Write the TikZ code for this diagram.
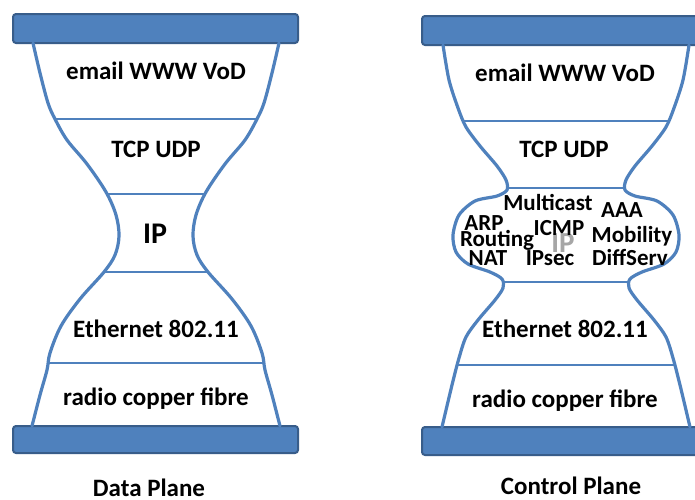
\documentclass[tikz,border=0pt]{standalone}
\usepackage{fontspec}
\setmainfont{Carlito}
\definecolor{glassblue}{HTML}{4F81BD}
\definecolor{glassdark}{HTML}{385D8A}
\definecolor{ipgray}{HTML}{A6A6A6}
\tikzset{
  bar/.style={fill=glassblue,draw=glassdark,line width=2pt,rounded corners=3pt},
  glass/.style={draw=glassblue,line width=3.2pt,line join=round,line cap=round},
  layer/.style={draw=glassblue,line width=2pt},
  biglabel/.style={font=\fontsize{25}{30}\selectfont\bfseries,anchor=base},
  smalllabel/.style={font=\fontsize{23}{27}\selectfont\bfseries,anchor=base,inner sep=0pt},
}

\begin{document}
\begin{tikzpicture}[x=1pt,y=-1pt]
  \useasboundingbox[fill=white] (0,0) rectangle (695,499);
  \begin{scope}
    \clip (0,0) rectangle (695,499);
    \draw[bar] (13,14) rectangle (298,43);
    \draw[bar] (13,426) rectangle (298,453);
    \draw[bar] (422,16) rectangle (710,45);
    \draw[bar] (422,427) rectangle (710,455);
  \end{scope}
  \begin{scope}
     \draw[glass] plot[smooth,tension=0.55] coordinates {(33,43) (40,73) (48,103) (55,119)
        (67,140) (87,164) (106,192) (116,215) (119,236) (115,255) (104,272) (80,299)
        (61,326) (50,353) (47,370) (40,395) (32,426)};
  \end{scope}
  \begin{scope}[shift={(312,0)},xscale=-1]
     \draw[glass] plot[smooth,tension=0.55] coordinates {(33,43) (40,73) (48,103) (55,119)
        (67,140) (87,164) (106,192) (116,215) (119,236) (115,255) (104,272) (80,299)
        (61,326) (50,353) (47,370) (40,395) (32,426)};
  \end{scope}
  \begin{scope}
     \draw[glass] plot[smooth,tension=0.5] coordinates {(443,45) (449,80) (458,108) (466,127)
        (480,146) (497,166) (506,180) (507,190) (497,196) (475,201) (459,215) (453,235)
        (456,252) (468,264) (490,272) (502,279) (503,288) (495,300) (478,320) (466,337)
        (459,358) (452,385) (442,427)};
  \end{scope}
  \begin{scope}[shift={(1132,0)},xscale=-1]
     \draw[glass] plot[smooth,tension=0.5] coordinates {(443,45) (449,80) (458,108) (466,127)
        (480,146) (497,166) (506,180) (507,190) (497,196) (475,201) (459,215) (453,235)
        (456,252) (468,264) (490,272) (502,279) (503,288) (495,300) (478,320) (466,337)
        (459,358) (452,385) (442,427)};
  \end{scope}
  \draw[layer] (55,119) -- (257,119);
  \draw[layer] (107,194) -- (205,194);
  \draw[layer] (104,272) -- (208,272);
  \draw[layer] (48,363) -- (264,363);
  \draw[layer] (463,121) -- (669,121);
  \draw[layer] (507,188) -- (625,188);
  \draw[layer] (503,282) -- (629,282);
  \draw[layer] (458,365) -- (674,365);
  \node[biglabel] (dApp)   at (156,79)  {email WWW VoD};
  \node[biglabel] (dTrans) at (156,157) {TCP UDP};
  \node[biglabel,font=\fontsize{30}{36}\selectfont\bfseries] (dNet) at (155,243) {IP};
  \node[biglabel] (dLink)  at (156,337) {Ethernet 802.11};
  \node[biglabel] (dPhy)   at (156,405) {radio copper fibre};
  \node[biglabel] (dTitle) at (149,496) {Data Plane};
  \node[biglabel] (cApp)   at (565,81)  {email WWW VoD};
  \node[biglabel] (cTrans) at (564,157) {TCP UDP};
  \node[biglabel] (cLink)  at (565,337) {Ethernet 802.11};
  \node[biglabel] (cPhy)   at (565,407) {radio copper fibre};
  \node[biglabel] (cTitle) at (571,494) {Control Plane};
  \node[smalllabel,font=\fontsize{29}{34}\selectfont\bfseries,text=ipgray] (cNet) at (563,252) {IP};
  \begin{scope}[every node/.style={smalllabel}]
     \node (mcast)  at (548,210) {Multicast};
     \node (aaa)    at (622,217) {AAA};
     \node (arp)    at (484,230) {ARP};
     \node (icmp)   at (559,235) {ICMP};
     \node (route)  at (497,246) {Routing};
     \node (mobil)  at (632,242) {Mobility};
     \node (nat)    at (488,265) {NAT};
     \node (ipsec)  at (550,265) {IPsec};
     \node (dserv)  at (630,265) {DiffServ};
  \end{scope}
\end{tikzpicture}
\end{document}
